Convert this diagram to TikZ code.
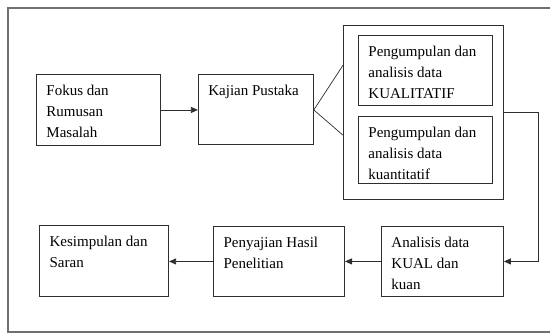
\documentclass[tikz,border=0pt]{standalone}
\usepackage{fontspec}
\setmainfont{Liberation Serif}
\usepackage{tikz}
\usetikzlibrary{arrows.meta,positioning,calc}
\definecolor{linegray}{HTML}{2E2E2E}
\definecolor{framegray}{HTML}{707070}
\newcommand{\cell}[3]{\parbox[c][\dimexpr#2pt-12pt\relax][t]{\dimexpr#1pt-20pt\relax}{\raggedright\strut#3}}

\begin{document}
\begin{tikzpicture}[
 x=1pt,y=1pt,font=\fontsize{15}{21}\selectfont,
 box/.style={draw=linegray,line width=0.9pt,inner xsep=10pt,inner ysep=6pt},
 link/.style={line width=0.7pt,draw=linegray},
 arr/.style={-{Triangle[length=7pt,width=6pt]},line width=0.8pt,draw=linegray}
]
\useasboundingbox (0,0) rectangle (550,-334);
\draw[framegray,line width=1.3pt] (8,-8) rectangle (570,-332);
\node[box,anchor=north west] (fokus) at (36,-74) {\cell{124}{71}{Fokus dan\\Rumusan\\Masalah}};
\node[box,right=37pt of fokus] (kajian) {\cell{115}{70}{Kajian Pustaka}};
\node[box,anchor=north west,minimum width=160pt,minimum height=174pt,inner sep=0pt] (grp) at (343,-25) {};
\node[box,anchor=north west] (kual) at (358,-35) {\cell{134}{70}{Pengumpulan dan\\analisis data\\KUALITATIF}};
\node[box,anchor=north west] (kuan) at (358,-116) {\cell{134}{67}{Pengumpulan dan\\analisis data\\kuantitatif}};
\node[box,anchor=north west] (analisis) at (381,-226) {\cell{122}{70}{Analisis data\\KUAL dan\\kuan}};
\node[box,left=36pt of analisis] (penyajian) {\cell{131}{70}{Penyajian Hasil\\Penelitian}};
\node[box,left=44pt of penyajian] (kesimpulan) {\cell{129}{71}{Kesimpulan dan\\Saran}};
\coordinate (fanA) at ($(grp.north west)!0.23!(grp.south west)$);
\coordinate (fanB) at ($(grp.north west)!0.63!(grp.south west)$);
\draw[link] (fanA) -- (kajian.east) -- (fanB);
\draw[arr] (fokus.east) -- (kajian.west);
\draw[arr] (grp.east) -- ++(34,0) |- (analisis.east);
\draw[arr] (analisis) -- (penyajian);
\draw[arr] (penyajian) -- (kesimpulan);
\end{tikzpicture}
\end{document}
